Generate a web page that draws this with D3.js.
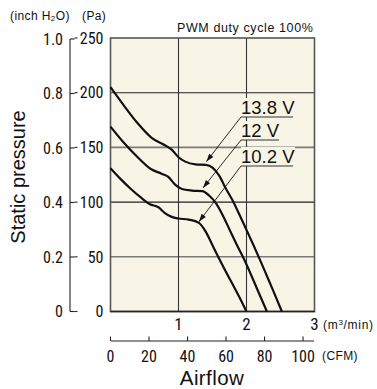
<!DOCTYPE html>
<html><head><meta charset="utf-8">
<script src="https://cdn.jsdelivr.net/npm/d3@7/dist/d3.min.js"></script>
<style>
html,body{margin:0;padding:0;background:#fff;}
svg{display:block;}
.narrow{font-family:"Liberation Sans Narrow","Roboto Condensed","DejaVu Sans Condensed",Arial,sans-serif;}
.reg{font-family:"Liberation Sans",Arial,Helvetica,sans-serif;}
</style></head>
<body><svg id="c" width="377" height="389"></svg>
<script>
// ---- data (airflow in m³/min, static pressure in Pa) ----
const seriesNames = ["13.8 V", "12 V", "10.2 V"];
const airflow138 = [0, 0.2, 0.4, 0.6, 0.8, 0.9, 1.0, 1.1, 1.25, 1.4, 1.5, 1.6, 1.7, 1.8, 1.9, 2.0, 2.1, 2.2, 2.3, 2.4, 2.52];
const pressure138 = [205, 188, 172, 159, 152, 148, 141, 137, 134.5, 134, 131.5, 124, 112, 101, 88, 74.5, 61, 47, 32.5, 18, 0];
const airflow120 = [0, 0.2, 0.4, 0.6, 0.75, 0.85, 0.95, 1.05, 1.2, 1.35, 1.45, 1.55, 1.65, 1.75, 1.85, 2.0, 2.15, 2.3];
const pressure120 = [169, 154, 141, 130, 126, 123, 116, 112, 110.5, 110, 106, 99, 88, 75, 62, 43, 21.5, 0];
const airflow102 = [0, 0.15, 0.3, 0.45, 0.58, 0.7, 0.8, 0.9, 1.0, 1.15, 1.3, 1.4, 1.5, 1.6, 1.7, 1.8, 1.9, 2.0];
const pressure102 = [131, 121, 112, 104, 98, 95.5, 90, 86.5, 85, 84, 81, 73, 60.5, 48, 36, 24.5, 12.5, 0];
const paTicks = [0, 50, 100, 150, 200, 250];
const inchTicks = [0, 0.2, 0.4, 0.6, 0.8, 1.0];
const m3Ticks = [1, 2, 3];
const cfmTicks = [0, 20, 40, 60, 80, 100];
// label anchor: point on curve the arrow points to (m³/min, Pa)
const arrowAt = [[1.41, 137], [1.36, 113], [1.3, 82]];

const svg = d3.select("#c");
const x = d3.scaleLinear([0, 3], [110.5, 314.5]);
const y = d3.scaleLinear([0, 250], [311.5, 38]);
const yInch = d3.scaleLinear([0, 1], [y(0), y(249.09)]);
const xCfm = d3.scaleLinear([0, 3 * 35.3147], [110.5, 314.5]);

// plot background
svg.append("rect").attr("x", x(0)).attr("y", y(250)).attr("width", x(3) - x(0)).attr("height", y(0) - y(250))
  .attr("fill", "#f9f5e6");

// gridlines
[50, 100, 150, 200].forEach(v => {
  const grey = (v === 50 || v === 150);
  svg.append("line").attr("x1", x(0)).attr("x2", x(3)).attr("y1", y(v)).attr("y2", y(v))
    .attr("stroke", grey ? "#7a7a7a" : "#222").attr("stroke-width", grey ? 1.6 : 1.1);
});
[1, 2].forEach(v => {
  svg.append("line").attr("x1", x(v)).attr("x2", x(v)).attr("y1", y(0)).attr("y2", y(250))
    .attr("stroke", "#333").attr("stroke-width", 1.1);
});

// border
svg.append("rect").attr("x", x(0)).attr("y", y(250)).attr("width", x(3) - x(0)).attr("height", y(0) - y(250))
  .attr("fill", "none").attr("stroke", "#555").attr("stroke-width", 1.6);
svg.append("line").attr("x1", x(0)).attr("x2", x(3)).attr("y1", y(0)).attr("y2", y(0)).attr("stroke", "#222").attr("stroke-width", 1.4);

// curves
const line = d3.line().x(d => x(d[0])).y(d => y(d[1])).curve(d3.curveMonotoneX);
const series = [
  d3.zip(airflow138, pressure138),
  d3.zip(airflow120, pressure120),
  d3.zip(airflow102, pressure102)
];
series.forEach(s => {
  svg.append("path").attr("d", line(s)).attr("fill", "none").attr("stroke", "#111").attr("stroke-width", 2.2)
    .attr("stroke-linejoin", "round");
});

// labels with leaders
const labelTop = [117, 140, 166]; // underline y
const labelW = [52, 38, 52];
seriesNames.forEach((n, i) => {
  const lx = 241, uy = labelTop[i];
  svg.append("rect").attr("x", lx).attr("y", uy - 19).attr("width", labelW[i] + 2).attr("height", 19).attr("fill", "#f9f5e6");
  svg.append("text").attr("class", "reg").attr("x", lx).attr("y", uy - 3.5).attr("font-size", 18.5)
    .attr("fill", "#111").text(n);
  svg.append("line").attr("x1", lx).attr("x2", lx + labelW[i]).attr("y1", uy).attr("y2", uy)
    .attr("stroke", "#333").attr("stroke-width", 1);
  const tx = x(arrowAt[i][0]), ty = y(arrowAt[i][1]);
  svg.append("line").attr("x1", lx).attr("y1", uy).attr("x2", tx).attr("y2", ty)
    .attr("stroke", "#111").attr("stroke-width", 0.9);
  const ang = Math.atan2(ty - uy, tx - lx);
  const L = 8, W = 2.6;
  const bx = tx - L * Math.cos(ang), by = ty - L * Math.sin(ang);
  const px = -Math.sin(ang) * W, py = Math.cos(ang) * W;
  svg.append("path").attr("d", `M${tx},${ty}L${bx + px},${by + py}L${bx - px},${by - py}Z`).attr("fill", "#111");
});

// left axes
const axX = 70;
svg.append("line").attr("x1", axX).attr("x2", axX).attr("y1", yInch(1)).attr("y2", yInch(0)).attr("stroke", "#222").attr("stroke-width", 1.1);
inchTicks.forEach(v => {
  svg.append("line").attr("x1", axX).attr("x2", axX + 4.5).attr("y1", yInch(v)).attr("y2", yInch(v)).attr("stroke", "#222").attr("stroke-width", 1.1);
  svg.append("text").attr("class", "narrow").attr("x", 63).attr("y", yInch(v)).attr("dy", "0.36em")
    .attr("text-anchor", "end").attr("font-size", 16).attr("fill", "#111").text(v === 0 ? "0" : v.toFixed(1));
});
paTicks.forEach(v => {
  svg.append("line").attr("x1", 74.5).attr("x2", 77.5).attr("y1", y(v)).attr("y2", y(v)).attr("stroke", "#222").attr("stroke-width", 1.1);
  svg.append("text").attr("class", "narrow").attr("x", 103.5).attr("y", y(v)).attr("dy", "0.36em")
    .attr("text-anchor", "end").attr("font-size", 16).attr("fill", "#111").text(v);
});

// bottom m3/min labels
m3Ticks.forEach(v => {
  svg.append("text").attr("class", "narrow").attr("x", x(v)).attr("y", 330)
    .attr("text-anchor", "middle").attr("font-size", 17).attr("fill", "#111").text(v);
});
const m3 = svg.append("text").attr("class", "reg").attr("x", 323).attr("y", 329).attr("font-size", 12)
  .attr("letter-spacing", 0.7).attr("fill", "#111");
m3.append("tspan").text("(m");
m3.append("tspan").attr("font-size", 8).attr("dy", -4.5).text("3");
m3.append("tspan").attr("dy", 4.5).text("/min)");

// CFM axis
const cfmY = 341;
svg.append("line").attr("x1", 111).attr("x2", 314).attr("y1", cfmY).attr("y2", cfmY).attr("stroke", "#222").attr("stroke-width", 1.1);
cfmTicks.forEach(v => {
  svg.append("line").attr("x1", xCfm(v)).attr("x2", xCfm(v)).attr("y1", cfmY).attr("y2", cfmY - 4.5).attr("stroke", "#222").attr("stroke-width", 1.1);
  svg.append("text").attr("class", "narrow").attr("x", xCfm(v)).attr("y", 362)
    .attr("text-anchor", "middle").attr("font-size", 16).attr("fill", "#111").text(v);
});
svg.append("text").attr("class", "reg").attr("x", 322).attr("y", 360).attr("font-size", 12)
  .attr("letter-spacing", 0.4).attr("fill", "#111").text("(CFM)");

// titles
svg.append("text").attr("class", "reg").attr("x", 212).attr("y", 385).attr("text-anchor", "middle")
  .attr("font-size", 20.5).attr("letter-spacing", 0.4).attr("fill", "#111").text("Airflow");
svg.append("text").attr("class", "reg").attr("transform", "translate(25,177) rotate(-90)")
  .attr("text-anchor", "middle").attr("font-size", 20).attr("fill", "#111").text("Static pressure");

const u = svg.append("text").attr("class", "reg").attr("x", 10).attr("y", 20).attr("font-size", 12)
  .attr("letter-spacing", 0.4).attr("fill", "#111");
u.append("tspan").text("(inch H");
u.append("tspan").attr("font-size", 8).attr("dy", 1).text("2");
u.append("tspan").attr("dy", -1).text("O)");
svg.append("text").attr("class", "reg").attr("x", 82).attr("y", 20).attr("font-size", 12)
  .attr("letter-spacing", 0.4).attr("fill", "#111").text("(Pa)");
svg.append("text").attr("class", "reg").attr("x", 177).attr("y", 32).attr("font-size", 12.5)
  .attr("letter-spacing", 0.6).attr("fill", "#111").text("PWM duty cycle 100%");
</script></body></html>
